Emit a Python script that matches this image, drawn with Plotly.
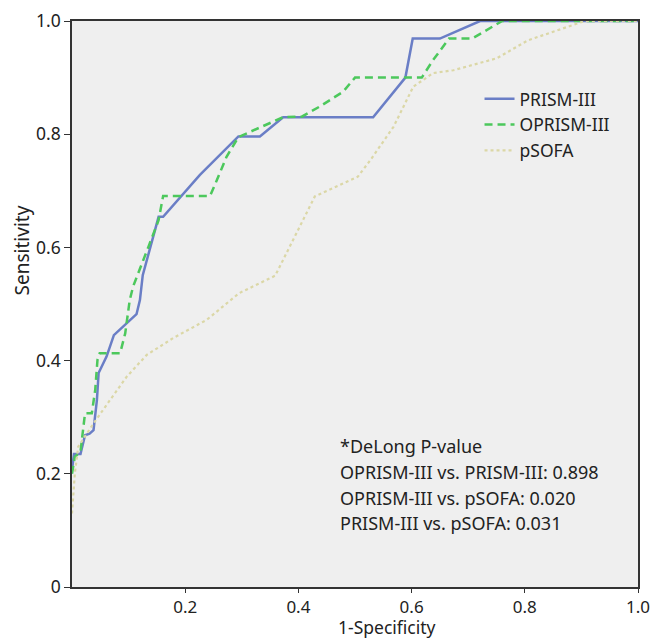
import plotly.graph_objects as go

# ROC curve points (1-Specificity, Sensitivity)
prism_x = [0.0, 0.0035, 0.015, 0.023, 0.031, 0.038, 0.044, 0.047, 0.061, 0.074, 0.114, 0.12,
           0.125, 0.153, 0.161, 0.226, 0.294, 0.332, 0.373, 0.532, 0.589, 0.602, 0.650, 0.721, 1.0]
prism_y = [0.207, 0.235, 0.235, 0.268, 0.271, 0.277, 0.330, 0.378, 0.407, 0.445, 0.482, 0.507,
           0.551, 0.654, 0.654, 0.728, 0.796, 0.796, 0.830, 0.830, 0.900, 0.969, 0.969, 1.0, 1.0]

oprism_x = [0.0, 0.005, 0.015, 0.023, 0.035, 0.041, 0.045, 0.049, 0.085, 0.094, 0.102, 0.108,
            0.135, 0.153, 0.161, 0.244, 0.256, 0.273, 0.294, 0.373, 0.406, 0.438, 0.479, 0.500,
            0.618, 0.638, 0.666, 0.707, 0.760, 1.0]
oprism_y = [0.200, 0.230, 0.239, 0.307, 0.307, 0.348, 0.401, 0.413, 0.413, 0.448, 0.507, 0.531,
            0.601, 0.648, 0.691, 0.691, 0.719, 0.760, 0.795, 0.830, 0.831, 0.849, 0.875, 0.900,
            0.900, 0.931, 0.969, 0.969, 1.0, 1.0]

psofa_x = [0.0, 0.005, 0.011, 0.038, 0.067, 0.097, 0.132, 0.179, 0.238, 0.295, 0.359, 0.397,
           0.429, 0.505, 0.527, 0.568, 0.603, 0.638, 0.674, 0.750, 0.806, 0.906, 1.0]
psofa_y = [0.130, 0.201, 0.248, 0.289, 0.330, 0.372, 0.410, 0.440, 0.472, 0.519, 0.550, 0.625,
           0.690, 0.725, 0.754, 0.813, 0.884, 0.908, 0.913, 0.934, 0.966, 1.0, 1.0]

series_names = ["PRISM-III", "OPRISM-III", "pSOFA"]

x_ticks = [0.2, 0.4, 0.6, 0.8, 1.0]
x_ticktext = ["0.2", "0.4", "0.6", "0.8", "1.0"]
y_ticks = [0, 0.2, 0.4, 0.6, 0.8, 1.0]
y_ticktext = ["0", "0.2", "0.4", "0.6", "0.8", "1.0"]

note_lines = ["*DeLong P-value",
              "OPRISM-III vs. PRISM-III: 0.898",
              "OPRISM-III vs. pSOFA: 0.020",
              "PRISM-III vs. pSOFA: 0.031"]

FONT = "Noto Sans"
TXT = "#222"
fig = go.Figure()
fig.add_trace(go.Scatter(x=prism_x, y=prism_y, mode="lines", name=series_names[0],
                         line=dict(color="#6a7ec6", width=2.5)))
fig.add_trace(go.Scatter(x=oprism_x, y=oprism_y, mode="lines", name=series_names[1],
                         line=dict(color="#4cc85c", width=2.5, dash="8px,5px")))
fig.add_trace(go.Scatter(x=psofa_x, y=psofa_y, mode="lines", name=series_names[2],
                         line=dict(color="#dbd7a6", width=2.2, dash="3px,3px")))

fig.update_layout(
    template="none",
    width=651, height=641,
    margin=dict(l=72, r=13, t=21, b=54, autoexpand=False),
    paper_bgcolor="white", plot_bgcolor="#efefef",
    font=dict(family=FONT, size=17, color=TXT),
    showlegend=True,
    legend=dict(x=0.72, y=0.894, xanchor="left", yanchor="top",
                bgcolor="rgba(0,0,0,0)", font=dict(size=17.5, family=FONT, color=TXT),
                tracegroupgap=0, itemwidth=30),
)
fig.update_xaxes(range=[0, 1], tickvals=x_ticks, ticktext=x_ticktext, automargin=False,
                 showgrid=False, zeroline=False, showline=True, linecolor="#333", linewidth=1.5,
                 mirror=True, ticks="outside", ticklen=4, tickcolor="#333",
                 tickfont=dict(size=17, family=FONT, color=TXT))
fig.update_yaxes(range=[0, 1], tickvals=y_ticks, ticktext=y_ticktext, automargin=False,
                 showgrid=False, zeroline=False, showline=True, linecolor="#333", linewidth=1.5,
                 mirror=True, ticks="outside", ticklen=6, tickcolor="#333",
                 tickfont=dict(size=17.5, family=FONT, color=TXT))

# axis titles
fig.add_annotation(text="1-Specificity", xref="paper", yref="paper", x=0.557, y=-0.0955,
                   xanchor="center", yanchor="bottom", showarrow=False,
                   font=dict(size=17.5, family=FONT, color=TXT))
fig.add_annotation(text="Sensitivity", xref="paper", yref="paper", x=-0.089, y=0.594,
                   xanchor="center", yanchor="middle", showarrow=False, textangle=-90,
                   font=dict(size=19, family=FONT, color=TXT))

note_y = [0.249, 0.203, 0.157, 0.113]
for txt, yy in zip(note_lines, note_y):
    fig.add_annotation(text=txt, xref="paper", yref="paper", x=0.470, y=yy,
                       xanchor="left", yanchor="middle", showarrow=False,
                       font=dict(size=18, family=FONT, color=TXT))

fig.write_html("out.html", config={"displayModeBar": False},
               post_script="document.body.style.margin='0';document.body.style.overflow='hidden';")
